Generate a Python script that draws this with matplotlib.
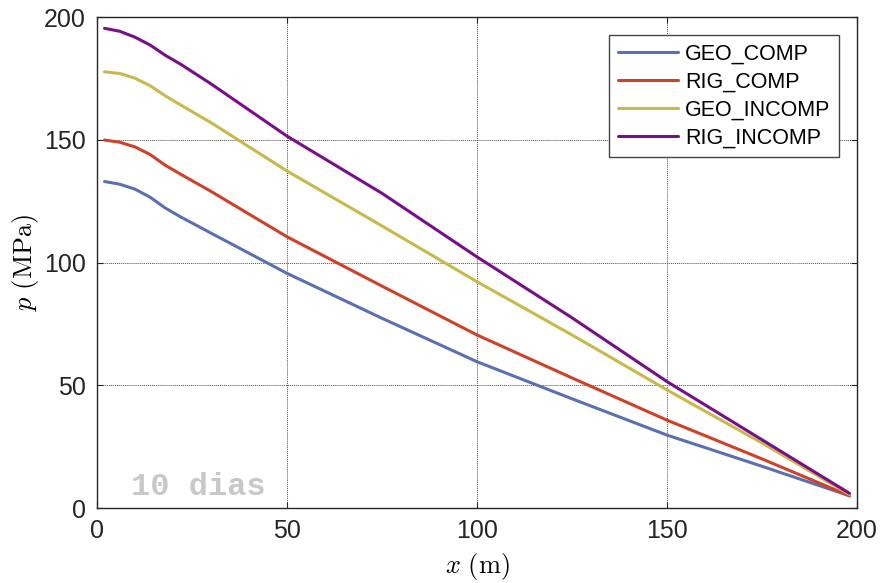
import matplotlib
matplotlib.use("Agg")
import matplotlib.pyplot as plt

plt.rcParams["font.family"] = ["Liberation Sans", "DejaVu Sans"]
plt.rcParams["mathtext.fontset"] = "cm"

# Pressure profiles along the reservoir after 10 days
x_m = [2, 6, 10, 14, 18, 22, 30, 50, 75, 100, 125, 150, 175, 198]
geo_comp = [133.0, 131.9, 129.9, 126.6, 122.2, 118.6, 112.0, 95.6, 77.3, 59.6, 44.5, 29.7, 17.0, 5.0]
rig_comp = [149.9, 149.0, 147.1, 144.0, 139.6, 136.0, 129.0, 110.5, 90.4, 70.5, 53.0, 35.8, 20.0, 5.0]
geo_incomp = [177.7, 177.0, 175.1, 172.0, 167.9, 164.2, 157.0, 137.3, 114.9, 92.2, 70.5, 48.1, 26.5, 5.5]
rig_incomp = [195.4, 194.2, 191.8, 188.6, 184.4, 180.8, 172.8, 151.5, 128.2, 102.3, 77.5, 51.5, 27.8, 6.0]

labels = ["GEO_COMP", "RIG_COMP", "GEO_INCOMP", "RIG_INCOMP"]
colors = ["#5b6fb3", "#cf4128", "#c9b84a", "#790e8b"]
x_ticks = [0, 50, 100, 150, 200]
y_ticks = [0, 50, 100, 150, 200]

fig = plt.figure(figsize=(8.81, 5.83), dpi=100)
ax = fig.add_axes([0.110, 0.1286, 0.8628, 0.8422])

for series, lab, col in zip([geo_comp, rig_comp, geo_incomp, rig_incomp], labels, colors):
    ax.plot(x_m, series, color=col, lw=2.2, label=lab,
            solid_capstyle="round", solid_joinstyle="round")

ax.set_xlim(0, 200)
ax.set_ylim(0, 200)
ax.set_xticks(x_ticks)
ax.set_yticks(y_ticks)
ax.tick_params(direction="in", labelsize=18, length=4, width=0.8, pad=8,
               top=True, right=True, colors="#262626")
ax.grid(True, linestyle=(0, (1, 1)), color="#505050", linewidth=0.7)
for s in ax.spines.values():
    s.set_linewidth(1.0)
    s.set_color("#262626")

ax.set_xlabel(r"$x\ (\mathrm{m})$", fontsize=19, labelpad=6)
ax.set_ylabel(r"$p\ (\mathrm{MPa})$", fontsize=19, labelpad=2)

ax.text(9, 8.6, "10 dias", fontsize=23, fontweight="bold", color="#c8c8c8",
        family=["Liberation Mono"], va="center", ha="left")

leg = ax.legend(loc="upper right", bbox_to_anchor=(0.976, 0.963), borderaxespad=0,
                fontsize=15.5, frameon=True, fancybox=False, framealpha=1,
                edgecolor="#444444", handlelength=2.8, handletextpad=0.3,
                labelspacing=0.32, borderpad=0.4)
leg.get_frame().set_linewidth(1.0)

fig.savefig("out.png", dpi=100)
